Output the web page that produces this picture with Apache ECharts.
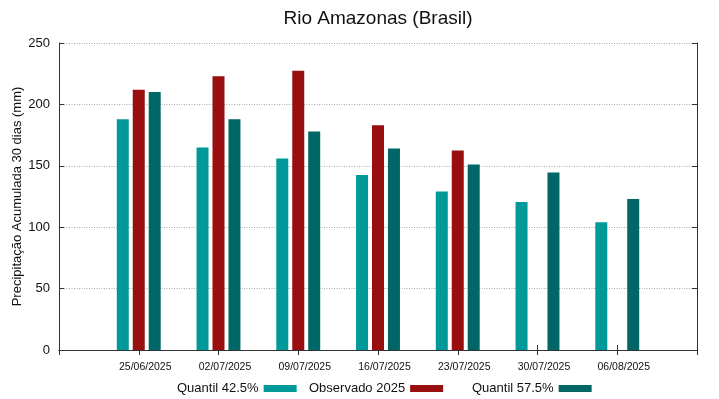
<!DOCTYPE html>
<html><head><meta charset="utf-8">
<script src="https://cdn.jsdelivr.net/npm/echarts@6/dist/echarts.min.js"></script>
<style>html,body{margin:0;padding:0;background:#fff}#c{width:719px;height:399px}</style>
</head><body><div id="c"></div>
<script>
const categories = ['25/06/2025','02/07/2025','09/07/2025','16/07/2025','23/07/2025','30/07/2025','06/08/2025'];
const quantil425 = [188, 165, 156, 142.5, 129, 120.5, 104];
const observado2025 = [212, 223, 227.5, 183, 162.5, null, null];
const quantil575 = [210, 188, 178, 164, 151, 144.5, 123];
const yTicks = [0, 50, 100, 150, 200, 250];

const cats = [''].concat(categories, ['']);
const pad = a => [null].concat(a, [null]);
const FONT = 'Liberation Sans, Arial, sans-serif';
const axisColor = '#333';

const chart = echarts.init(document.getElementById('c'), null, {renderer: 'canvas'});
const legendBase = {
  orient: 'horizontal', top: 382, padding: 0, align: 'right', icon: 'rect',
  itemWidth: 33, itemHeight: 7, itemGap: 0,
  textStyle: {fontFamily: FONT, fontSize: 13, color: '#111', padding: 0},
  selectedMode: false
};
chart.setOption({
  animation: false,
  backgroundColor: '#fff',
  title: {
    text: 'Rio Amazonas (Brasil)', left: 373, textAlign: 'center', top: 4,
    textStyle: {fontFamily: FONT, fontSize: 19, fontWeight: 'normal', color: '#111'}
  },
  legend: [
    Object.assign({}, legendBase, {left: 177, data: ['Quantil 42.5%']}),
    Object.assign({}, legendBase, {left: 309, data: ['Observado 2025']}),
    Object.assign({}, legendBase, {left: 472, data: ['Quantil 57.5%']})
  ],
  grid: {left: 59, right: 22, top: 43, bottom: 49, containLabel: false, outerBoundsMode: 'none'},
  xAxis: [{
    type: 'category', data: cats, boundaryGap: false, position: 'bottom',
    axisLine: {show: true, lineStyle: {color: axisColor, width: 1}},
    axisTick: {show: true, inside: true, length: 5, lineStyle: {color: axisColor}},
    axisLabel: {fontFamily: FONT, fontSize: 10.5, color: '#111', margin: 12, interval: 0,
      padding: [0, 0, 0, 13]},
    splitLine: {show: false}
  }, {
    type: 'category', data: cats, boundaryGap: false, position: 'top',
    axisLine: {show: true, lineStyle: {color: axisColor, width: 1}},
    axisTick: {show: true, inside: true, length: 5, lineStyle: {color: axisColor}},
    axisLabel: {show: false}, splitLine: {show: false}
  }],
  yAxis: [{
    type: 'value', min: 0, max: 250, interval: 50,
    name: 'Precipitação Acumulada 30 dias (mm)', nameLocation: 'middle', nameGap: 35,
    nameMoveOverlap: false,
    nameTextStyle: {fontFamily: FONT, fontSize: 13, color: '#111'},
    axisLine: {show: true, lineStyle: {color: axisColor, width: 1}},
    axisTick: {show: true, inside: true, length: 5, lineStyle: {color: axisColor}},
    axisLabel: {fontFamily: FONT, fontSize: 13, color: '#111', margin: 9,
      formatter: v => yTicks.indexOf(v) >= 0 ? String(v) : ''},
    splitLine: {show: true, lineStyle: {color: '#aaa', type: [1, 1.5], width: 1}}
  }, {
    type: 'value', min: 0, max: 250, interval: 50, position: 'right',
    axisLine: {show: true, lineStyle: {color: axisColor, width: 1}},
    axisTick: {show: true, inside: true, length: 5, lineStyle: {color: axisColor}},
    axisLabel: {show: false}, splitLine: {show: false}
  }],
  series: [
    {name: 'Quantil 42.5%', type: 'bar', data: pad(quantil425), barWidth: 12, barGap: '33%',
      itemStyle: {color: '#009999'}},
    {name: 'Observado 2025', type: 'bar', data: pad(observado2025), barWidth: 12, barGap: '33%',
      itemStyle: {color: '#990e0e'}},
    {name: 'Quantil 57.5%', type: 'bar', data: pad(quantil575), barWidth: 12, barGap: '33%',
      itemStyle: {color: '#006666'}}
  ]
});
</script></body></html>
